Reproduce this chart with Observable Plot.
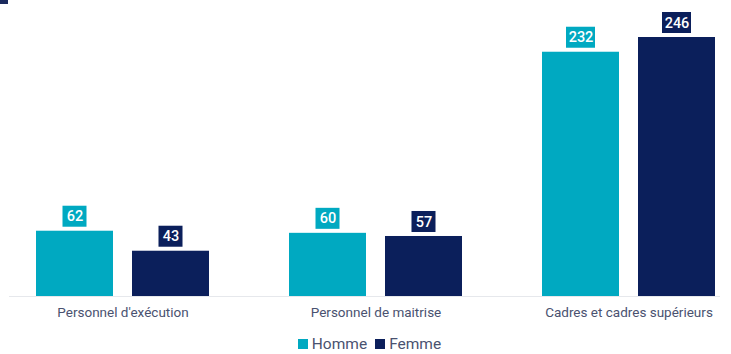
<!DOCTYPE html>
<html>
<head>
<meta charset="utf-8">
<script src="https://cdn.jsdelivr.net/npm/d3@7"></script>
<script src="https://cdn.jsdelivr.net/npm/@observablehq/plot@0.6"></script>
<style>
  body { margin: 0; background: #fff; font-family: Roboto, "Noto Sans", sans-serif; }
  #wrap { position: relative; width: 731px; height: 354px; overflow: hidden; }
  #corner { position: absolute; left: 0; top: 0; width: 8px; height: 4px; background: #1b2a5e; }
  #legend { display: flex; justify-content: center; align-items: center; height: 20px; margin-left: 8px;
            font-size: 15.5px; color: #4a5270; gap: 8px; }
  #legend .item { display: flex; align-items: center; }
  #legend .sw { display: inline-block; width: 10px; height: 10px; margin-right: 4px; }
</style>
</head>
<body>
<div id="wrap">
  <div id="chart"></div>
  <div id="legend"></div>
  <div id="corner"></div>
</div>
<script>
const categories = ["Personnel d'exécution", "Personnel de maitrise", "Cadres et cadres supérieurs"];
const series = ["Homme", "Femme"];
const homme = [62, 60, 232];
const femme = [43, 57, 246];
const colors = ["#00a9c1", "#0b1f5b"];

const data = [];
categories.forEach((c, i) => {
  data.push({category: c, sexe: "Homme", value: homme[i]});
  data.push({category: c, sexe: "Femme", value: femme[i]});
});

const chart = Plot.plot({
  width: 731,
  height: 334,
  marginTop: 37,
  marginBottom: 38,
  marginLeft: 36,
  marginRight: 15,
  style: {fontFamily: "Roboto, sans-serif", fontSize: "13.5px", color: "#4a5270", background: "transparent"},
  fx: {domain: categories, paddingInner: 0.316, paddingOuter: 0, label: null, tickSize: 0, tickPadding: 11},
  x: {domain: series, paddingInner: 0.2, paddingOuter: 0, axis: null},
  y: {domain: [0, 246], axis: null},
  color: {domain: series, range: colors},
  facet: {data, x: "category"},
  marks: [
    Plot.barY(data, {x: "sexe", y: "value", fill: "sexe"}),
    Plot.rect(data, {
      filter: d => d.value < 100,
      x: "sexe", y1: "value", y2: "value", fill: "sexe",
      insetTop: -25, insetBottom: 4, insetLeft: 26.5, insetRight: 26.5
    }),
    Plot.rect(data, {
      filter: d => d.value >= 100,
      x: "sexe", y1: "value", y2: "value", fill: "sexe",
      insetTop: -25, insetBottom: 4, insetLeft: 24, insetRight: 24
    }),
    Plot.text(data, {
      x: "sexe", y: "value", text: d => String(d.value), dy: -14.5,
      fill: "white", fontSize: 14.5, fontWeight: 500
    })
  ]
});

document.getElementById("chart").appendChild(chart);

// light baseline across the whole frame at y = 0
const y0 = chart.scale("y").apply(0);
d3.select(chart).append("line")
  .attr("x1", 9).attr("x2", 720)
  .attr("y1", y0 + 0.5).attr("y2", y0 + 0.5)
  .attr("stroke", "#e6e8ec").attr("stroke-width", 1);

const legend = document.getElementById("legend");
series.forEach((s, i) => {
  const item = document.createElement("span");
  item.className = "item";
  const sw = document.createElement("span");
  sw.className = "sw";
  sw.style.background = colors[i];
  item.appendChild(sw);
  item.appendChild(document.createTextNode(s));
  legend.appendChild(item);
});
</script>
</body>
</html>
